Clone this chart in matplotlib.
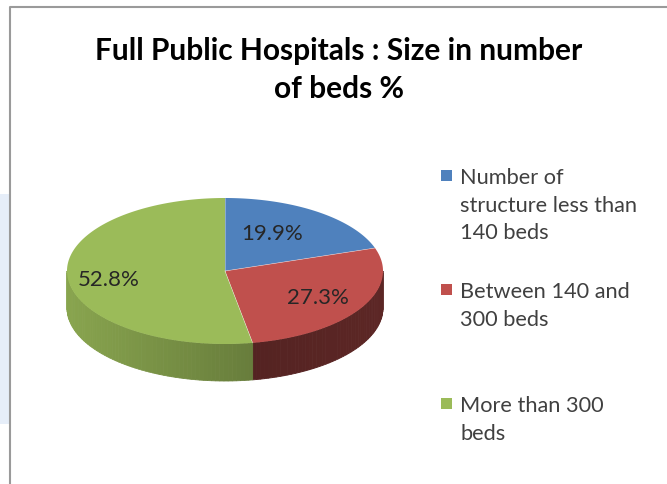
import numpy as np
import matplotlib
matplotlib.use("Agg")
import matplotlib.pyplot as plt
from matplotlib.patches import Polygon, Rectangle

# data
labels = ["Number of\nstructure less than\n140 beds",
          "Between 140 and\n300 beds",
          "More than 300\nbeds"]
values = [19.9, 27.3, 52.8]
colors = ["#4F81BD", "#C0504D", "#9BBB59"]
title = "Full Public Hospitals : Size in number\nof beds %"

plt.rcParams['font.family'] = ['Lato', 'DejaVu Sans']

fig = plt.figure(figsize=(6.67, 4.85), dpi=100)
ax = fig.add_axes([0, 0, 1, 1])
ax.set_xlim(0, 667)
ax.set_ylim(485, 0)
ax.axis('off')

# frame of the chart area + faint blue page behind it
ax.add_patch(Rectangle((0, 195), 10, 230, color="#e6eef9", lw=0))
ax.plot([10, 10, 667], [485, 8, 8], color="#9a9a9a", lw=1.5)

# 3D pie geometry (pixels)
cx, cy, rx, ry, depth = 225, 272, 158, 73, 37


def pt(t, dy=0.0):
    # t = degrees clockwise from 12 o'clock
    r = np.radians(t)
    return cx + rx * np.sin(r), cy - ry * np.cos(r) + dy


def shade(c, f):
    c = np.array(matplotlib.colors.to_rgb(c))
    return tuple(np.clip(c * f, 0, 1))


starts = np.concatenate([[0], np.cumsum(values)[:-1]]) / sum(values) * 360
ends = np.cumsum(values) / sum(values) * 360
side_range = {1: (0.48, 0.38), 2: (0.88, 0.52)}

# side walls (front half only: 90..270 deg)
for i, (a, b) in enumerate(zip(starts, ends)):
    lo, hi = max(a, 90), min(b, 270)
    if lo >= hi:
        continue
    ts = np.linspace(lo, hi, int((hi - lo) / 1.5) + 2)
    f0, f1 = side_range.get(i, (0.6, 0.5))
    for t0, t1 in zip(ts[:-1], ts[1:]):
        x0, y0 = pt(t0)
        x1, y1 = pt(t1)
        xm = (x0 + x1) / 2
        frac = (xm - (cx - rx)) / (2 * rx)
        f = f0 + (f1 - f0) * (1 - frac) if i == 1 else f0 - (f0 - f1) * frac
        quad = [(x0, y0), (x1, y1), (x1, y1 + depth), (x0, y0 + depth)]
        ax.add_patch(Polygon(quad, closed=True, fc=shade(colors[i], f),
                             ec=shade(colors[i], f), lw=0.6))

# top faces
for i, (a, b) in enumerate(zip(starts, ends)):
    ts = np.linspace(a, b, 200)
    poly = [(cx, cy)] + [pt(t) for t in ts]
    ax.add_patch(Polygon(poly, closed=True, fc=colors[i], ec="none"))
    ax.plot([cx, pt(a)[0]], [cy, pt(a)[1]], color="white", lw=0.4, alpha=0.6)

# data labels
label_pos = [(272, 234), (318, 298), (109, 280)]
for v, (x, y) in zip(values, label_pos):
    ax.text(x, y, f"{v:.1f}%", ha="center", va="center", fontsize=16,
            color="#262626")

# title
ax.text(339, 70, title, ha="center", va="center", fontsize=21.5,
        fontweight="bold", color="black", linespacing=1.42)

# legend
leg_y = [177, 291, 405]
for lab, c, y in zip(labels, colors, leg_y):
    ax.add_patch(Rectangle((441, y - 6), 11, 11, color=c, lw=0))
    ax.text(460, y - 9, lab, ha="left", va="top", fontsize=15.7,
            color="#404040", linespacing=1.47)

fig.savefig("out.png", dpi=100)
